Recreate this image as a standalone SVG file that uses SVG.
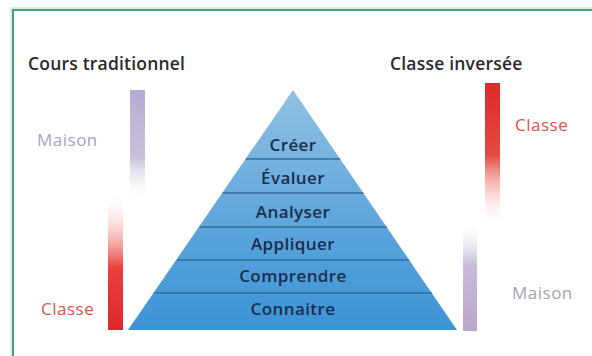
<svg xmlns="http://www.w3.org/2000/svg" width="592" height="356" viewBox="0 0 592 356">
<style>
.t{font-family:"Open Sans","Noto Sans",sans-serif;}
.h{font-size:17.5px;font-weight:600;fill:#2a2a2a;letter-spacing:0.2px;}
.lv{font-size:17px;font-weight:600;fill:#1b2d4d;text-anchor:middle;letter-spacing:0.4px;}
.m{font-size:17px;letter-spacing:0.5px;}
.sep{stroke:#2f6f9f;stroke-width:1.6;}
</style>
<defs>
<linearGradient id="pyr" x1="0" y1="90" x2="0" y2="330" gradientUnits="userSpaceOnUse">
<stop offset="0" stop-color="#92c1e3"/>
<stop offset="0.5" stop-color="#62a8dc"/>
<stop offset="1" stop-color="#3b93d6"/>
</linearGradient>
<linearGradient id="purDown" x1="0" y1="0" x2="0" y2="1">
<stop offset="0" stop-color="#b7acd0"/>
<stop offset="0.6" stop-color="#c8c0dc"/>
<stop offset="1" stop-color="#ffffff" stop-opacity="0"/>
</linearGradient>
<linearGradient id="redUp" x1="0" y1="0" x2="0" y2="1">
<stop offset="0" stop-color="#ffffff" stop-opacity="0"/>
<stop offset="0.55" stop-color="#e8403a"/>
<stop offset="1" stop-color="#e02828"/>
</linearGradient>
<linearGradient id="redDown" x1="0" y1="0" x2="0" y2="1">
<stop offset="0" stop-color="#e02828"/>
<stop offset="0.5" stop-color="#e64a42"/>
<stop offset="1" stop-color="#ffffff" stop-opacity="0"/>
</linearGradient>
<linearGradient id="purUp" x1="0" y1="0" x2="0" y2="1">
<stop offset="0" stop-color="#ffffff" stop-opacity="0"/>
<stop offset="0.4" stop-color="#c8bcd8"/>
<stop offset="1" stop-color="#b9a6cc"/>
</linearGradient>
</defs>
<rect width="592" height="356" fill="#ffffff"/>
<g id="frame">
<path d="M11 356 V8 H592" fill="none" stroke="#c8eedd" stroke-width="1.5"/>
<path d="M13 356 V10 H592" fill="none" stroke="#4f9a78" stroke-width="2"/>
</g>
<g id="left-column">
<text class="t h" x="28" y="70">Cours traditionnel</text>
<rect x="130" y="90" width="15" height="112" fill="url(#purDown)"/>
<rect x="108" y="192" width="15" height="138" fill="url(#redUp)"/>
<text class="t m" x="37" y="146" fill="#aaa0c4">Maison</text>
<text class="t m" x="41" y="315" fill="#d9544e">Classe</text>
</g>
<g id="right-column">
<text class="t h" x="390" y="70">Classe inversée</text>
<rect x="485" y="83" width="15" height="145" fill="url(#redDown)"/>
<rect x="463" y="220" width="14" height="111" fill="url(#purUp)"/>
<text class="t m" x="515" y="131" fill="#d9544e">Classe</text>
<text class="t m" x="512" y="299" fill="#a4a2b2">Maison</text>
</g>
<g id="pyramid">
<polygon points="293,90 457,330 128,330" fill="url(#pyr)"/>
<g id="separators">
<line class="sep" x1="245.8" y1="159" x2="340.2" y2="159"/>
<line class="sep" x1="222.6" y1="193" x2="363.4" y2="193"/>
<line class="sep" x1="199.3" y1="227" x2="386.7" y2="227"/>
<line class="sep" x1="176.8" y1="260" x2="409.2" y2="260"/>
<line class="sep" x1="154.2" y1="293" x2="431.8" y2="293"/>
</g>
<g id="level-creer"><text class="t lv" x="293" y="151">Créer</text></g>
<g id="level-evaluer"><text class="t lv" x="293" y="184">Évaluer</text></g>
<g id="level-analyser"><text class="t lv" x="293" y="218">Analyser</text></g>
<g id="level-appliquer"><text class="t lv" x="293" y="250">Appliquer</text></g>
<g id="level-comprendre"><text class="t lv" x="293" y="282">Comprendre</text></g>
<g id="level-connaitre"><text class="t lv" x="293" y="315">Connaitre</text></g>
</g>
</svg>
